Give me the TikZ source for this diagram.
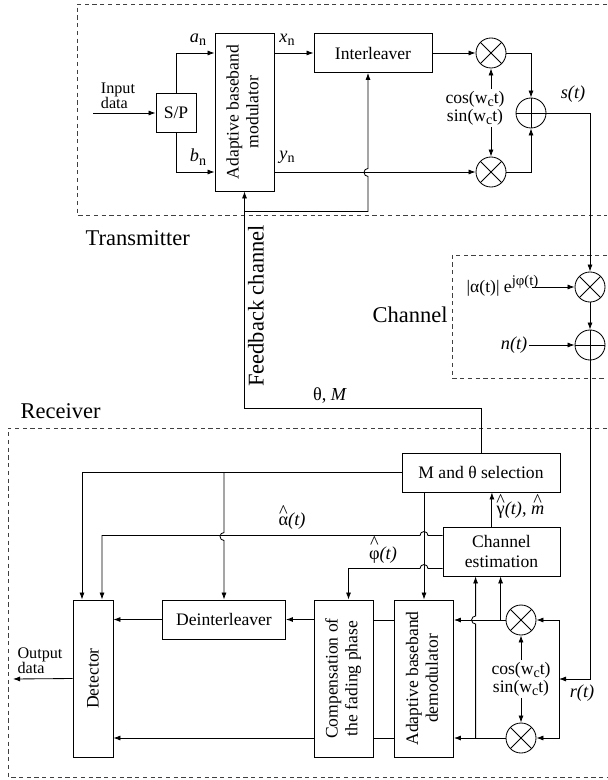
\documentclass[tikz,border=0pt]{standalone}
\usepackage{fontspec}
\setmainfont{Liberation Serif}
\usepackage{tikz}
\usetikzlibrary{arrows.meta,calc,positioning}

\newcommand\hatc[2][0.45em]{\leavevmode\ooalign{#2\cr\hidewidth\raisebox{#1}{\textasciicircum}\hidewidth\cr}}
\newcommand\lowtxt[1]{\raisebox{-0.4ex}{\fontsize{10}{10}\selectfont #1}}
\newcommand\hightxt[1]{\raisebox{0.85ex}{\fontsize{10.5}{10.5}\selectfont #1}}

\tikzset{
  blk/.style={draw, line width=0.6pt, inner sep=0pt, align=center, font=\fontsize{12.5}{14}\selectfont},
  mulnode/.style={circle, draw, line width=0.6pt, minimum size=0.75cm, inner sep=0pt,
    path picture={\draw[line width=0.6pt] (path picture bounding box.north west) -- (path picture bounding box.south east)
      (path picture bounding box.south west) -- (path picture bounding box.north east);}},
  addnode/.style={circle, draw, line width=0.6pt, minimum size=0.75cm, inner sep=0pt,
    path picture={\draw[line width=0.6pt] (path picture bounding box.north) -- (path picture bounding box.south)
      (path picture bounding box.west) -- (path picture bounding box.east);}},
  lbl/.style={inner sep=1pt, font=\fontsize{13}{14}\selectfont},
  smalllbl/.style={inner sep=1pt, align=left, font=\fontsize{11.5}{10.5}\selectfont},
  biglbl/.style={inner sep=1pt, font=\fontsize{16}{18}\selectfont},
  frame/.style={line width=0.5pt, black!75, dash pattern=on 3pt off 2.5pt},
  arr/.style={line width=0.6pt, -{Latex[length=5pt,width=3.6pt]}},
  wire/.style={line width=0.6pt},
}

\begin{document}
\begin{tikzpicture}[x=0.025cm, y=-0.025cm]
\useasboundingbox (0,0) rectangle (607,780);

\draw[frame] (607,4) -- (77,4) -- (77,215) -- (607,215);
\draw[frame] (607,255) -- (452,255) -- (452,378) -- (607,378);
\draw[frame] (607,428) -- (8,428) -- (8,777) -- (607,777);

\node[blk, minimum width=1cm, minimum height=0.975cm] (sp) at (176,113) {S/P};
\node[blk, minimum width=1.475cm, minimum height=3.95cm] (mod) at (244.5,112)
  {\rotatebox{90}{\begin{tabular}{@{}c@{}}Adaptive baseband\\modulator\end{tabular}}};
\node[blk, minimum width=2.95cm, minimum height=0.975cm] (ilv) at (373,53) {Interleaver};
\node[mulnode] (mulA) at (491,53) {};
\node[mulnode] (mulB) at (491,172) {};
\node[addnode] (addT) at (531,113) {};
\node[lbl, align=center, font=\fontsize{12.5}{13}\selectfont] (cosT) at (475,108) {cos(w\lowtxt{c}t)\\sin(w\lowtxt{c}t)};
\node[smalllbl] (inLbl) at (118,96) {Input\\data};
\coordinate (inStart) at (93,113);
\node[lbl] (an) at (198,40) {\textit{a}\lowtxt{n}};
\node[lbl] (bn) at (198,157) {\textit{b}\lowtxt{n}};
\node[lbl] (xn) at (287,40) {\textit{x}\lowtxt{n}};
\node[lbl] (yn) at (287,157) {\textit{y}\lowtxt{n}};
\node[lbl] (sLbl) at (573,94) {\textit{s(t)}};
\node[biglbl, anchor=west] (txLbl) at (84,238) {Transmitter};

\node[mulnode] (mulC) at (590,287) {};
\node[addnode] (addC) at (590,345) {};
\node[lbl, anchor=base east, font=\fontsize{12.5}{14}\selectfont] (fade) at (540,292) {|α(t)| e\hightxt{jφ(t)}};
\coordinate (aIn) at (532,287);
\node[lbl, anchor=east] (noise) at (529,345) {\textit{n(t)}};
\node[biglbl] (chanLbl) at (410,315) {Channel};
\node[biglbl, rotate=90] (fbLbl) at (256,306) {Feedback channel};
\node[lbl] (thM) at (330,396) {θ, \textit{M}};

\node[biglbl, anchor=west] (rxLbl) at (19,411) {Receiver};
\node[blk, minimum width=3.95cm, minimum height=0.975cm] (msel) at (481,472.5) {M and θ selection};
\node[blk, minimum width=2.925cm, minimum height=1.225cm] (chest) at (501.5,551.5) {Channel\\estimation};
\node[blk, minimum width=1cm, minimum height=3.925cm] (det) at (93,678.5) {\rotatebox{90}{Detector}};
\node[blk, minimum width=3.075cm, minimum height=0.975cm] (deint) at (224,619.5) {Deinterleaver};
\node[blk, minimum width=1.475cm, minimum height=3.925cm] (comp) at (343.5,678.5)
  {\rotatebox{90}{\begin{tabular}{@{}c@{}}Compensation of\\the fading phase\end{tabular}}};
\node[blk, minimum width=1.475cm, minimum height=3.925cm] (demod) at (424,678.5)
  {\rotatebox{90}{\begin{tabular}{@{}c@{}}Adaptive baseband\\demodulator\end{tabular}}};
\node[mulnode] (mulD) at (521,620) {};
\node[mulnode] (mulE) at (521,738) {};
\node[lbl, align=center, font=\fontsize{12.5}{13}\selectfont] (cosR) at (521,679) {cos(w\lowtxt{c}t)\\sin(w\lowtxt{c}t)};
\node[lbl] (rLbl) at (582,693) {\textit{r(t)}};
\node[lbl, anchor=west] (gLbl) at (495,510) {\hatc{γ}\textit{(t)}, \hatc{\textit{m}}};
\node[lbl] (aLbl) at (292,521) {\hatc{α}\textit{(t)}};
\node[lbl] (pLbl) at (383,555) {\hatc[0.62em]{φ}\textit{(t)}};
\node[smalllbl] (outLbl) at (40,661) {Output\\data};
\coordinate (outEnd) at (13,679);
\coordinate (rIn) at (559,679);

\draw[arr] (inStart) -- (sp.west);
\draw[arr] (sp.north) |- (mod.west |- ilv);
\draw[arr] (sp.south) |- (mod.west |- mulB);
\draw[arr] (mod.east |- ilv) -- (ilv.west);
\draw[arr] (mod.east |- mulB) -- (mulB.west);
\draw[arr] (ilv.east) -- (mulA.west);
\draw[arr] (cosT.north -| mulA) -- (mulA.south);
\draw[arr] (cosT.south -| mulB) -- (mulB.north);
\draw[arr] (mulA.east) -| (addT.north);
\draw[arr] (mulB.east) -| (addT.south);
\draw[arr] (addT.east) -| (mulC.north);

\path (mod.south) ++(0,217) coordinate (fbTurn);
\path (mod.south) ++(0,20) coordinate (fbTap);
\draw[arr] (msel.north) |- (fbTurn) -- (mod.south);
\draw[arr] (fbTap) -- ++(123.5,0) -- ++(0,-35) arc[start angle=-90, end angle=-270, radius=0.1cm] -- ([xshift=-0.125cm]ilv.south);

\draw[arr] (mulC.south) -- (addC.north);
\draw[arr] (aIn) -- (mulC.west);
\draw[arr] (noise.east) -- (addC.west);
\draw[arr] (addC.south) |- (rIn);

\draw[arr] (rIn) |- (mulD.east);
\draw[arr] (rIn) |- (mulE.east);
\draw[arr] (cosR.north) -- (mulD.south);
\draw[arr] (cosR.south) -- (mulE.north);
\draw[arr] (mulD.west) -- (demod.east |- mulD);
\draw[arr] (mulE.west) -- (demod.east |- mulE);
\coordinate (tapD) at ($(mulD.west)+(-5,0)$);
\coordinate (tapE) at ($(mulE.west)+(-30,0)$);
\draw[arr] (tapD) -- (tapD |- chest.south);
\draw[arr] (tapE) -- ++(0,-114) arc[start angle=-90, end angle=-270, radius=0.1cm] -- (tapE |- chest.south);
\draw[wire] (demod.west |- mulD) -- (comp.east |- mulD);
\draw[wire] (demod.west |- mulE) -- (comp.east |- mulE);
\draw[arr] (comp.west |- deint) -- (deint.east);
\draw[arr] (deint.west) -- (det.east |- deint);
\draw[arr] (comp.west |- mulE) -- (det.east |- mulE);
\draw[arr] (det.west) -- (outEnd);

\coordinate (gOut) at ([xshift=-0.24cm]chest.north);
\draw[arr] (gOut) -- (gOut |- msel.south);
\draw[arr] (msel.west) -| ([xshift=-0.275cm]det.north);
\draw[arr] (deint.north |- msel.west) -- ++(0,60) arc[start angle=90, end angle=270, radius=0.1cm] -- (deint.north);
\draw[arr] (demod.north |- msel.south) -- (demod.north);
\coordinate (aLvl) at ($(chest.west)+(0,-16)$);
\coordinate (pLvl) at ($(chest.west)+(0,17)$);
\draw[arr] (aLvl) -- ($(aLvl -| demod.north)+(4,0)$) arc[start angle=0, end angle=180, radius=0.1cm] -| ([xshift=0.225cm]det.north);
\draw[arr] (pLvl) -- ($(pLvl -| demod.north)+(4,0)$) arc[start angle=0, end angle=180, radius=0.1cm] -| ([xshift=0.125cm]comp.north);
\end{tikzpicture}
\end{document}
